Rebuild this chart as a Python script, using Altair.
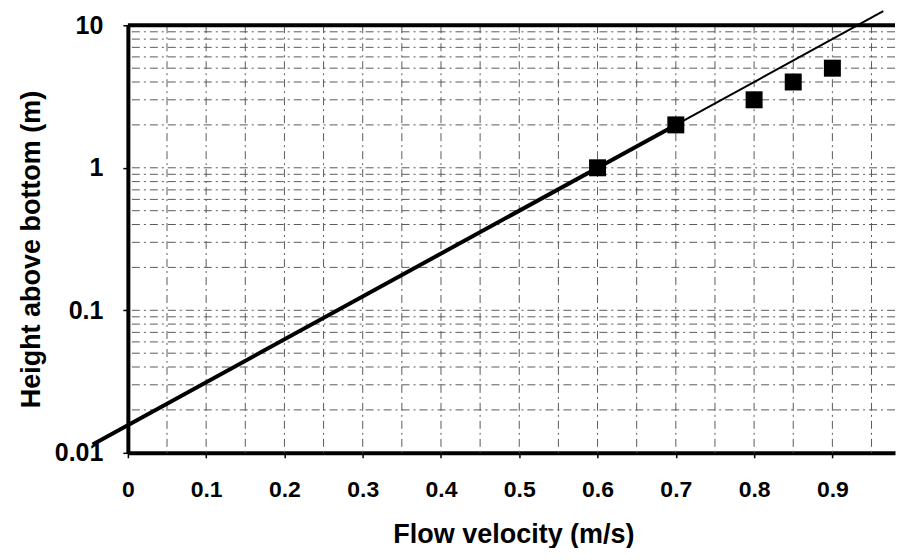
import altair as alt
import pandas as pd

# measured squares
vel = [0.6, 0.7, 0.8, 0.85, 0.9]
height = [1.0, 2.0, 3.0, 4.0, 5.0]

# log-law fit line, read at its ends and where its weight changes
fit_thick_x = [-0.045, 0.7]
fit_thick_y = [0.01144, 2.0]
fit_thin_x = [0.7, 0.965]
fit_thin_y = [2.0, 12.55]

x_ticks = [0, 0.1, 0.2, 0.3, 0.4, 0.5, 0.6, 0.7, 0.8, 0.9]
x_grid = [0.05, 0.1, 0.15, 0.2, 0.25, 0.3, 0.35, 0.4, 0.45, 0.5, 0.55,
          0.6, 0.65, 0.7, 0.75, 0.8, 0.85, 0.9, 0.95]
y_ticks = [0.01, 0.1, 1, 10]
y_grid = [0.02, 0.03, 0.04, 0.05, 0.06, 0.07, 0.08, 0.09,
          0.1, 0.2, 0.3, 0.4, 0.5, 0.6, 0.7, 0.8, 0.9,
          1, 2, 3, 4, 5, 6, 7, 8, 9]
top_edge = [10]

FONT = "Liberation Sans"
xscale = alt.Scale(domain=[0, 0.98], nice=False, zero=False)
yscale = alt.Scale(type="log", domain=[0.01, 10], nice=False)

xaxis = alt.Axis(values=x_ticks, format="~g", grid=False,
                 domainColor="black", domainWidth=4,
                 tickColor="black", tickWidth=1.5, tickSize=5,
                 labelFont=FONT, labelFontSize=23, labelFontWeight="bold",
                 labelColor="black", labelPadding=21, labelFlush=False,
                 labelOverlap=False,
                 title="Flow velocity (m/s)", titleFont=FONT, titleFontSize=27,
                 titleFontWeight="bold", titleColor="black",
                 titleX=386, titleY=90, titleBaseline="alphabetic",
                 titleAlign="center")
yaxis = alt.Axis(values=y_ticks, format="~g", grid=False,
                 domainColor="black", domainWidth=4,
                 tickColor="black", tickWidth=1.5, tickSize=5,
                 labelFont=FONT, labelFontSize=25, labelFontWeight="bold",
                 labelColor="black", labelPadding=20, labelFlush=False,
                 labelOverlap=False,
                 title="Height above bottom (m)", titleFont=FONT, titleFontSize=27,
                 titleFontWeight="bold", titleColor="black",
                 titleX=-96, titleY=224, titleBaseline="middle",
                 titleAlign="center", titleAngle=270)

grid_style = dict(color="#5a5a5a", strokeWidth=1, strokeDash=[8, 4, 2, 4])

X = lambda f: alt.X(f, scale=xscale, axis=xaxis)
Y = lambda f: alt.Y(f, scale=yscale, axis=yaxis)

xg = alt.Chart(pd.DataFrame({"v": x_grid})).mark_rule(**grid_style).encode(
    x=X("v:Q"))
yg = alt.Chart(pd.DataFrame({"v": y_grid})).mark_rule(**grid_style).encode(
    y=Y("v:Q"))
top = alt.Chart(pd.DataFrame({"v": top_edge})).mark_rule(
    color="black", strokeWidth=4).encode(y=Y("v:Q"))

thick = alt.Chart(pd.DataFrame({"x": fit_thick_x, "y": fit_thick_y})).mark_line(
    color="black", strokeWidth=4, clip=False).encode(x=X("x:Q"), y=Y("y:Q"))
thin = alt.Chart(pd.DataFrame({"x": fit_thin_x, "y": fit_thin_y})).mark_line(
    color="black", strokeWidth=2, clip=False).encode(x=X("x:Q"), y=Y("y:Q"))

pts = alt.Chart(pd.DataFrame({"x": vel, "y": height})).mark_square(
    color="black", size=289, opacity=1).encode(x=X("x:Q"), y=Y("y:Q"))

chart = alt.layer(xg, yg, top, thick, thin, pts).properties(
    width=768, height=428,
    autosize=alt.AutoSizeParams(type="none"),
    padding={"left": 120, "top": 17, "right": 4, "bottom": 95},
    background="white",
).configure_view(stroke=None)

chart.save("out.html", embed_options={"renderer": "svg", "actions": False})
